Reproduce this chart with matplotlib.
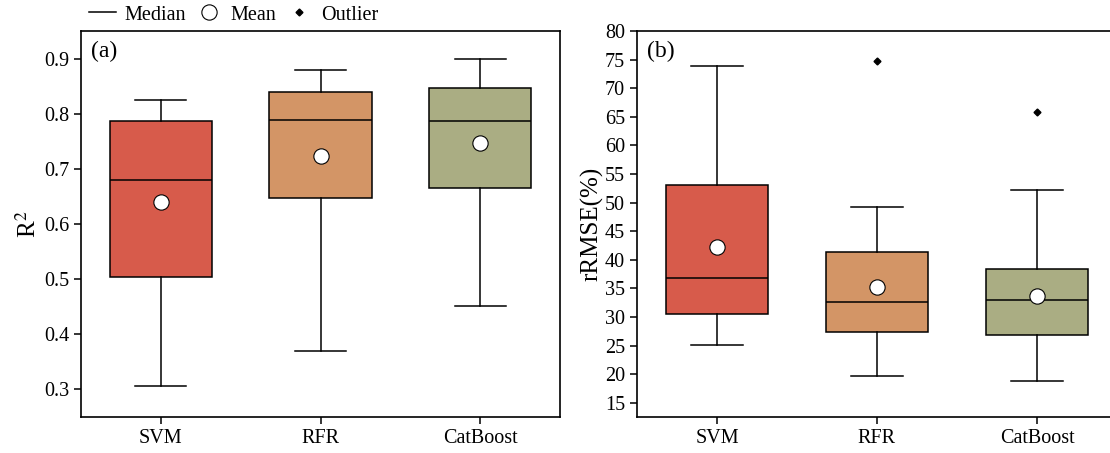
import matplotlib
matplotlib.use("Agg")
import matplotlib.pyplot as plt
from matplotlib.lines import Line2D

plt.rcParams['font.family'] = ['Liberation Serif', 'DejaVu Serif']
plt.rcParams['mathtext.fontset'] = 'stix'

models = ["SVM", "RFR", "CatBoost"]
colors = ["#D75B4B", "#D39566", "#AAAD83"]

# R2 panel: whisker low, Q1, median, Q3, whisker high, mean
r2_low = [0.307, 0.370, 0.451]
r2_q1 = [0.504, 0.648, 0.666]
r2_med = [0.680, 0.788, 0.786]
r2_q3 = [0.786, 0.839, 0.846]
r2_high = [0.824, 0.880, 0.900]
r2_mean = [0.640, 0.723, 0.747]
r2_out = [[], [], []]

# rRMSE panel
rm_low = [25.1, 19.7, 18.8]
rm_q1 = [30.5, 27.4, 26.9]
rm_med = [36.8, 32.6, 33.0]
rm_q3 = [53.1, 41.4, 38.4]
rm_high = [73.9, 49.2, 52.2]
rm_mean = [42.2, 35.2, 33.7]
rm_out = [[], [74.8], [65.8]]

W, H = 1110, 453
fig = plt.figure(figsize=(W / 100, H / 100), dpi=100)

def px_axes(l, t, r, b):
    return fig.add_axes([l / W, 1 - b / H, (r - l) / W, (b - t) / H])

ax1 = px_axes(81, 31, 560, 417)
ax2 = px_axes(637, 31, 1117, 417)

def draw(ax, low, q1, med, q3, high, mean, out):
    stats = []
    for i in range(len(models)):
        stats.append(dict(whislo=low[i], q1=q1[i], med=med[i], q3=q3[i],
                          whishi=high[i], mean=mean[i], fliers=out[i], label=models[i]))
    bp = ax.bxp(stats, positions=range(len(models)), widths=0.64, patch_artist=True,
                showmeans=True, showfliers=True,
                boxprops=dict(edgecolor='black', linewidth=1.1),
                medianprops=dict(color='black', linewidth=1.1),
                whiskerprops=dict(color='black', linewidth=1.1),
                capprops=dict(color='black', linewidth=1.1),
                capwidths=0.32,
                meanprops=dict(marker='o', markerfacecolor='white', markeredgecolor='black',
                               markersize=11, markeredgewidth=0.8),
                flierprops=dict(marker='D', markerfacecolor='black', markeredgecolor='black',
                                markersize=3.5))
    for patch, c in zip(bp['boxes'], colors):
        patch.set_facecolor(c)
    ax.set_xlim(-0.5, 2.5)
    ax.set_xticks(range(len(models)))
    ax.set_xticklabels(models)
    for s in ax.spines.values():
        s.set_linewidth(1.2)
    ax.tick_params(axis='both', labelsize=14.5, length=5, width=1.1)

draw(ax1, r2_low, r2_q1, r2_med, r2_q3, r2_high, r2_mean, r2_out)
draw(ax2, rm_low, rm_q1, rm_med, rm_q3, rm_high, rm_mean, rm_out)

ax1.set_ylim(0.25, 0.95)
ax1.set_yticks([0.3, 0.4, 0.5, 0.6, 0.7, 0.8, 0.9])
ax1.set_yticklabels(["0.3", "0.4", "0.5", "0.6", "0.7", "0.8", "0.9"])
ax1.set_ylabel("R$^2$", fontsize=18, labelpad=2)

ax2.set_ylim(12.5, 80)
ax2.set_yticks(list(range(15, 81, 5)))
ax2.set_ylabel("rRMSE(%)", fontsize=18, labelpad=1)

ax1.text(0.02, 0.975, "(a)", transform=ax1.transAxes, fontsize=17, va='top', ha='left')
ax2.text(0.02, 0.975, "(b)", transform=ax2.transAxes, fontsize=17, va='top', ha='left')

handles = [
    Line2D([], [], color='black', linewidth=1.1),
    Line2D([], [], marker='o', linestyle='none', markerfacecolor='white',
           markeredgecolor='black', markersize=11, markeredgewidth=0.8),
    Line2D([], [], marker='D', linestyle='none', color='black', markersize=3.5),
]
fig.legend(handles, ["Median", "Mean", "Outlier"], ncol=3, frameon=False,
           loc='center left', bbox_to_anchor=(89 / W, 1 - 15 / H), fontsize=14.5,
           handlelength=1.35, handletextpad=0.4, columnspacing=0.47,
           borderaxespad=0, borderpad=0)

fig.savefig("out.png", dpi=100)
